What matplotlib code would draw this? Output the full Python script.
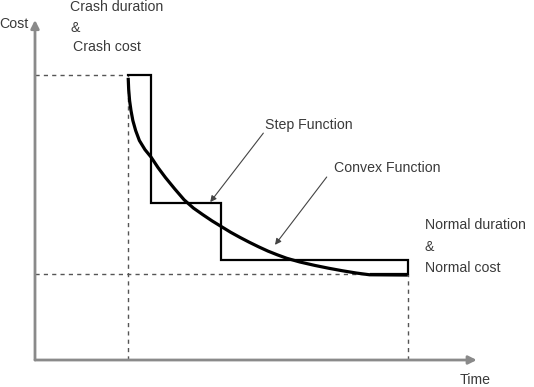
import matplotlib
matplotlib.use('Agg')
import matplotlib.pyplot as plt
from matplotlib import rcParams

rcParams['font.family'] = ['Liberation Sans', 'DejaVu Sans']
rcParams['font.size'] = 10.2

# crash / normal points (time, cost)
crash_time, crash_cost = 1.0, 10.0
normal_time, normal_cost = 4.0, 3.0

# step function outline
step_t = [1.0, 1.25, 1.25, 2.0, 2.0, 4.0, 4.0, 3.6]
step_c = [10.0, 10.0, 5.5, 5.5, 3.5, 3.5, 3.0, 3.0]

# convex cost curve
convex_t = [1.0, 1.005, 1.015, 1.03, 1.05, 1.08, 1.12, 1.18, 1.245, 1.32,
            1.40, 1.50, 1.60, 1.70, 1.80, 1.90, 2.0, 2.1, 2.2, 2.3,
            2.4, 2.5, 2.6, 2.7, 2.84, 3.0, 3.15, 3.3, 3.45, 3.59, 4.0]
convex_c = [9.9, 9.5, 9.1, 8.75, 8.4, 8.05, 7.7, 7.38, 7.12, 6.75,
            6.4, 6.0, 5.62, 5.33, 5.1, 4.88, 4.68, 4.48, 4.3, 4.13,
            3.97, 3.82, 3.69, 3.57, 3.44, 3.32, 3.22, 3.13, 3.05, 2.99, 2.98]

t_max, c_max = 4.74, 11.93

fig = plt.figure(figsize=(5.34, 3.87), dpi=100)
ax = fig.add_axes([0, 0, 1, 1])
ax.set_xlim(-0.3755, 5.354)
ax.set_ylim(-0.947, 12.63)
ax.axis('off')

axis_col = '#8a8a8a'
text_col = '#3a3a3a'
dash_col = '#555555'

# axes with arrows
ax.annotate('', xy=(0, c_max), xytext=(0, 0),
            arrowprops=dict(arrowstyle='-|>', color=axis_col, lw=2,
                            mutation_scale=12, shrinkA=0, shrinkB=0))
ax.annotate('', xy=(t_max, 0), xytext=(0, 0),
            arrowprops=dict(arrowstyle='-|>', color=axis_col, lw=2,
                            mutation_scale=12, shrinkA=0, shrinkB=0))

# dashed guide lines
dash = dict(color=dash_col, lw=1, linestyle=(0, (3, 3)))
ax.plot([0, crash_time], [crash_cost, crash_cost], **dash)
ax.plot([crash_time, crash_time], [0, crash_cost], **dash)
ax.plot([0, normal_time], [normal_cost, normal_cost], **dash)
ax.plot([normal_time, normal_time], [0, normal_cost], **dash)

ax.plot(step_t, step_c, color='black', lw=1.6, solid_joinstyle='miter')
ax.plot(convex_t, convex_c, color='black', lw=2.3, solid_capstyle='butt',
        solid_joinstyle='round')

# labels
ax.text(-0.075, 11.79, 'Cost', ha='right', va='center', color=text_col)
ax.text(0.376, 12.40, 'Crash duration', ha='left', va='center', color=text_col)
ax.text(0.376, 11.65, '&', ha='left', va='center', color=text_col)
ax.text(0.41, 10.98, 'Crash cost', ha='left', va='center', color=text_col)
ax.text(4.18, 4.74, 'Normal duration', ha='left', va='center', color=text_col)
ax.text(4.18, 3.96, '&', ha='left', va='center', color=text_col)
ax.text(4.18, 3.23, 'Normal cost', ha='left', va='center', color=text_col)
ax.text(4.56, -0.70, 'Time', ha='left', va='center', color=text_col)

arrow = dict(arrowstyle='-|>', color='#444444', lw=0.8, mutation_scale=9,
             shrinkA=0, shrinkB=0)
ax.annotate('Step Function', xy=(1.88, 5.54), xytext=(2.47, 8.25),
            ha='left', va='center', color=text_col)
ax.annotate('', xy=(1.88, 5.54), xytext=(2.45, 7.96), arrowprops=arrow)
ax.annotate('Convex Function', xy=(2.575, 4.04), xytext=(3.21, 6.74),
            ha='left', va='center', color=text_col)
ax.annotate('', xy=(2.575, 4.04), xytext=(3.13, 6.42), arrowprops=arrow)

fig.savefig('out.png', dpi=100)
